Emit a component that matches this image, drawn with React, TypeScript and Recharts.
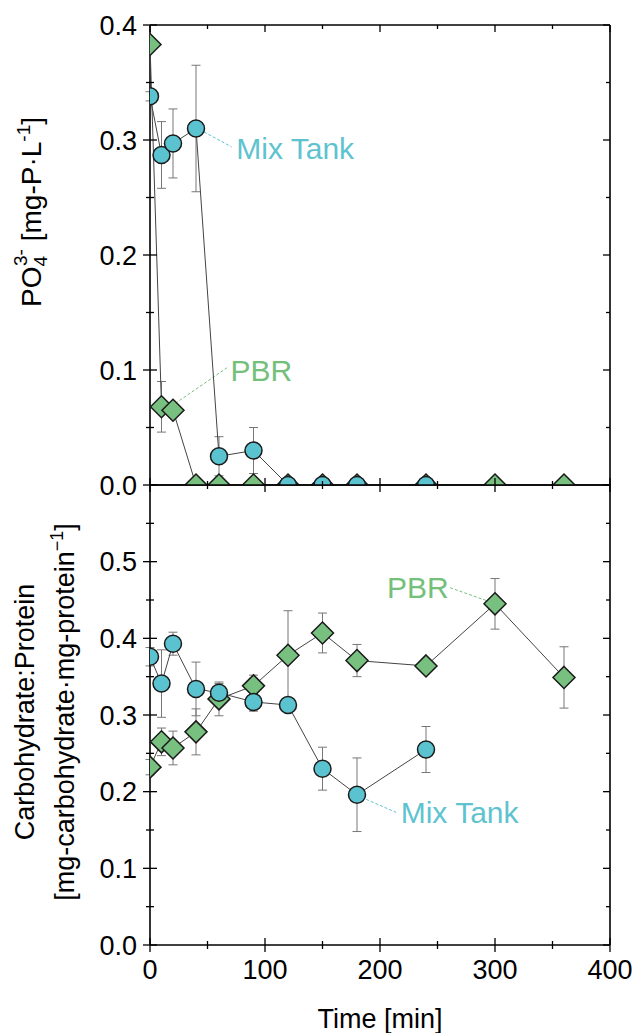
import React from "react";
import {
  ComposedChart,
  Scatter,
  XAxis,
  YAxis,
  ErrorBar,
  ReferenceLine,
  ReferenceDot,
} from "recharts";

// time axis
const timeTicks = [0, 50, 100, 150, 200, 250, 300, 350, 400];

// top panel: phosphate
const phosTicks = [0, 0.05, 0.1, 0.15, 0.2, 0.25, 0.3, 0.35, 0.4];
const phosMixTime = [0, 10, 20, 40, 60, 90, 120, 150, 180, 240];
const phosMix = [0.338, 0.287, 0.297, 0.31, 0.025, 0.03, 0, 0, 0, 0];
const phosMixErr = [0.004, 0.029, 0.03, 0.055, 0.017, 0.02, 0, 0, 0, 0];
const phosPbrTime = [0, 10, 20, 40, 60, 90, 120, 150, 180, 240, 300, 360];
const phosPbr = [0.383, 0.068, 0.065, 0, 0, 0, 0, 0, 0, 0, 0, 0];
const phosPbrErr = [0, 0.022, 0.005, 0, 0, 0, 0, 0, 0, 0, 0, 0];

// bottom panel: carbohydrate to protein ratio
const ratioTicks = [0, 0.05, 0.1, 0.15, 0.2, 0.25, 0.3, 0.35, 0.4, 0.45, 0.5, 0.55];
const ratioMixTime = [0, 10, 20, 40, 60, 90, 120, 150, 180, 240];
const ratioMix = [0.376, 0.341, 0.393, 0.334, 0.329, 0.317, 0.313, 0.23, 0.196, 0.255];
const ratioMixErr = [0.012, 0.044, 0.015, 0.035, 0.012, 0.012, 0.005, 0.028, 0.048, 0.03];
const ratioPbrTime = [0, 10, 20, 40, 60, 90, 120, 150, 180, 240, 300, 360];
const ratioPbr = [0.232, 0.265, 0.257, 0.278, 0.321, 0.338, 0.378, 0.407, 0.371, 0.364, 0.445, 0.349];
const ratioPbrErr = [0.01, 0.018, 0.022, 0.03, 0.022, 0.014, 0.058, 0.026, 0.021, 0.004, 0.033, 0.04];

const FONT = "'Liberation Sans', Arial, Helvetica, sans-serif";
const CYAN = "#5bc3d0";
const GREEN = "#78c07f";
const CYAN_TEXT = "#5ec3cf";
const GREEN_TEXT = "#74c07b";
const TICK_FS = 27;

// plot box (same for both panels)
const W = 637;
const PLOT_LEFT = 150;
const PLOT_RIGHT_MARGIN = 27;
const PLOT_W = W - PLOT_LEFT - PLOT_RIGHT_MARGIN;
const PLOT_H = 460;

const rows = (ts: number[], vs: number[], es: number[]) =>
  ts.map((t, i) => ({ t, v: vs[i], e: es[i] }));

const isMajor = (v: number, step: number) =>
  Math.abs(v / step - Math.round(v / step)) < 1e-6;

const tickStroke = { stroke: "#000", strokeWidth: 1.3 };

const LeftTick = (p: any) => {
  const major = isMajor(p.payload.value, 0.1);
  const len = major ? 7 : 4;
  return (
    <g>
      <line x1={p.x - len} x2={p.x + len} y1={p.y} y2={p.y} {...tickStroke} />
      {major && (
        <text x={p.x - 13} y={p.y} dy="0.36em" textAnchor="end" fontSize={TICK_FS} fontFamily={FONT} fill="#000">
          {p.payload.value.toFixed(1)}
        </text>
      )}
    </g>
  );
};

const RightTick = (p: any) => {
  const len = isMajor(p.payload.value, 0.1) ? 7 : 4;
  return <line x1={p.x - len} x2={p.x} y1={p.y} y2={p.y} {...tickStroke} />;
};

const DownTick = (p: any) => {
  const len = isMajor(p.payload.value, 100) ? 7 : 4;
  return <line x1={p.x} x2={p.x} y1={p.y} y2={p.y + len} {...tickStroke} />;
};

const UpTick = (p: any) => {
  const len = isMajor(p.payload.value, 100) ? 7 : 4;
  return <line x1={p.x} x2={p.x} y1={p.y - len} y2={p.y} {...tickStroke} />;
};

const BottomTick = (p: any) => {
  const major = isMajor(p.payload.value, 100);
  const len = major ? 7 : 4;
  return (
    <g>
      <line x1={p.x} x2={p.x} y1={p.y - len} y2={p.y + len} {...tickStroke} />
      {major && (
        <text x={p.x} y={p.y + 34} textAnchor="middle" fontSize={TICK_FS} fontFamily={FONT} fill="#000">
          {p.payload.value}
        </text>
      )}
    </g>
  );
};

const PhosTitle = (p: any) => {
  const vb = p.viewBox;
  const cx = vb.x + 41;
  const cy = vb.y + vb.height / 2 - 43;
  return (
    <text transform={`rotate(-90 ${cx} ${cy})`} x={cx} y={cy} textAnchor="middle" fontSize={28} fontFamily={FONT} fill="#000">
      PO
      <tspan fontSize={19} dy={6}>4</tspan>
      <tspan fontSize={19} dx={-10} dy={-20}>3-</tspan>
      <tspan dy={14}> [mg-P·L</tspan>
      <tspan fontSize={19} dy={-11}>-1</tspan>
      <tspan dy={11}>]</tspan>
    </text>
  );
};

const RatioTitle = (p: any) => {
  const vb = p.viewBox;
  const cy = vb.y + vb.height / 2 - 3;
  const x1 = vb.x + 34;
  const x2 = vb.x + 74;
  return (
    <g fontSize={27} fontFamily={FONT} fill="#000">
      <text transform={`rotate(-90 ${x1} ${cy})`} x={x1} y={cy} textAnchor="middle">
        Carbohydrate:Protein
      </text>
      <text transform={`rotate(-90 ${x2} ${cy})`} x={x2} y={cy} textAnchor="middle">
        [mg-carbohydrate·mg-protein
        <tspan fontSize={18} dy={-11}>−1</tspan>
        <tspan dy={11}>]</tspan>
      </text>
    </g>
  );
};

const TimeTitle = (p: any) => {
  const vb = p.viewBox;
  return (
    <text x={vb.x + vb.width / 2} y={vb.y + vb.height - 5} textAnchor="middle" fontSize={27} fontFamily={FONT} fill="#000">
      Time [min]
    </text>
  );
};

const makeCircle = (clip: string) => (p: any) => (
  <circle cx={p.cx} cy={p.cy} r={8.5} fill={CYAN} stroke="#1a1a1a" strokeWidth={1.5} clipPath={`url(#${clip})`} />
);

const makeDiamond = (clip: string) => (p: any) => {
  const d = 11;
  return (
    <path
      d={`M${p.cx},${p.cy - d}L${p.cx + d},${p.cy}L${p.cx},${p.cy + d}L${p.cx - d},${p.cy}Z`}
      fill={GREEN}
      stroke="#1a1a1a"
      strokeWidth={1.5}
      clipPath={`url(#${clip})`}
    />
  );
};

const Nothing = () => <g />;

const axisLine = { stroke: "#000", strokeWidth: 1.6 };
const seriesLine = { stroke: "#444", strokeWidth: 1 };
const errorBar = { dataKey: "e", direction: "y" as const, width: 4.5, stroke: "#777", strokeWidth: 1 };

const annotation = (fill: string) => ({
  position: "right" as const,
  offset: 0,
  fill,
  fontSize: 30,
  fontFamily: FONT,
});

const PlotClip = ({ id, top }: { id: string; top: number }) => (
  <defs>
    <clipPath id={id}>
      <rect x={PLOT_LEFT} y={top} width={PLOT_W} height={PLOT_H} />
    </clipPath>
  </defs>
);

export default function App() {
  const phosMixRows = rows(phosMixTime, phosMix, phosMixErr);
  const phosPbrRows = rows(phosPbrTime, phosPbr, phosPbrErr);
  const ratioMixRows = rows(ratioMixTime, ratioMix, ratioMixErr);
  const ratioPbrRows = rows(ratioPbrTime, ratioPbr, ratioPbrErr);

  return (
    <div style={{ position: "absolute", left: 0, top: 0, width: W, height: 1033, background: "#fff" }}>
      <style>{`.recharts-surface{overflow:visible}`}</style>

      <div style={{ position: "absolute", left: 0, top: 0 }}>
        <ComposedChart width={W} height={490} margin={{ top: 24, right: PLOT_RIGHT_MARGIN - 1, bottom: 4, left: 0 }}>
          <PlotClip id="clip-phos" top={25} />
          <XAxis xAxisId={0} type="number" dataKey="t" domain={[0, 400]} ticks={timeTicks} interval={0}
            height={1} tickSize={0} tickMargin={0} tickLine={false} axisLine={axisLine} tick={UpTick} />
          <XAxis xAxisId="top" orientation="top" type="number" dataKey="t" domain={[0, 400]} ticks={timeTicks} interval={0}
            height={1} tickSize={0} tickMargin={0} tickLine={false} axisLine={axisLine} tick={DownTick} />
          <YAxis yAxisId={0} type="number" dataKey="v" domain={[0, 0.4]} ticks={phosTicks} interval={0}
            allowDataOverflow width={PLOT_LEFT} tickSize={0} tickMargin={0} tickLine={false} axisLine={axisLine}
            tick={LeftTick} label={PhosTitle} />
          <YAxis yAxisId="r" orientation="right" type="number" dataKey="v" domain={[0, 0.4]} ticks={phosTicks} interval={0}
            width={1} tickSize={0} tickMargin={0} tickLine={false} axisLine={axisLine} tick={RightTick} />

          <Scatter xAxisId="top" yAxisId="r" data={phosMixRows} shape={Nothing} isAnimationActive={false} />
          <Scatter data={phosPbrRows} line={seriesLine} shape={Nothing} isAnimationActive={false}>
            <ErrorBar {...errorBar} />
          </Scatter>
          <Scatter data={phosMixRows} line={seriesLine} shape={Nothing} isAnimationActive={false}>
            <ErrorBar {...errorBar} />
          </Scatter>
          <Scatter data={phosPbrRows} shape={makeDiamond("clip-phos")} isAnimationActive={false} />
          <Scatter data={phosMixRows} shape={makeCircle("clip-phos")} isAnimationActive={false} />

          <ReferenceLine segment={[{ x: 47, y: 0.307 }, { x: 71, y: 0.294 }]} stroke={CYAN} strokeDasharray="3 2" />
          <ReferenceDot x={75} y={0.293} r={0} fill="none" stroke="none" label={{ value: "Mix Tank", ...annotation(CYAN_TEXT) }} />
          <ReferenceLine segment={[{ x: 22, y: 0.071 }, { x: 67, y: 0.102 }]} stroke={GREEN} strokeDasharray="3 2" />
          <ReferenceDot x={70} y={0.1} r={0} fill="none" stroke="none" label={{ value: "PBR", ...annotation(GREEN_TEXT) }} />
        </ComposedChart>
      </div>

      <div style={{ position: "absolute", left: 0, top: 484 }}>
        <ComposedChart width={W} height={549} margin={{ top: 0, right: PLOT_RIGHT_MARGIN - 1, bottom: 0, left: 0 }}>
          <PlotClip id="clip-ratio" top={1} />
          <XAxis xAxisId={0} type="number" dataKey="t" domain={[0, 400]} ticks={timeTicks} interval={0}
            height={88} tickSize={0} tickMargin={0} tickLine={false} axisLine={axisLine} tick={BottomTick}
            label={TimeTitle} />
          <XAxis xAxisId="top" orientation="top" type="number" dataKey="t" domain={[0, 400]} ticks={timeTicks} interval={0}
            height={1} tickSize={0} tickMargin={0} tickLine={false} axisLine={axisLine} tick={DownTick} />
          <YAxis yAxisId={0} type="number" dataKey="v" domain={[0, 0.6]} ticks={ratioTicks} interval={0}
            allowDataOverflow width={PLOT_LEFT} tickSize={0} tickMargin={0} tickLine={false} axisLine={axisLine}
            tick={LeftTick} label={RatioTitle} />
          <YAxis yAxisId="r" orientation="right" type="number" dataKey="v" domain={[0, 0.6]} ticks={ratioTicks} interval={0}
            width={1} tickSize={0} tickMargin={0} tickLine={false} axisLine={axisLine} tick={RightTick} />

          <Scatter xAxisId="top" yAxisId="r" data={ratioMixRows} shape={Nothing} isAnimationActive={false} />
          <Scatter data={ratioPbrRows} line={seriesLine} shape={Nothing} isAnimationActive={false}>
            <ErrorBar {...errorBar} />
          </Scatter>
          <Scatter data={ratioMixRows} line={seriesLine} shape={Nothing} isAnimationActive={false}>
            <ErrorBar {...errorBar} />
          </Scatter>
          <Scatter data={ratioPbrRows} shape={makeDiamond("clip-ratio")} isAnimationActive={false} />
          <Scatter data={ratioMixRows} shape={makeCircle("clip-ratio")} isAnimationActive={false} />

          <ReferenceLine segment={[{ x: 261, y: 0.466 }, { x: 293, y: 0.449 }]} stroke={GREEN} strokeDasharray="3 2" />
          <ReferenceDot x={206} y={0.466} r={0} fill="none" stroke="none" label={{ value: "PBR", ...annotation(GREEN_TEXT) }} />
          <ReferenceLine segment={[{ x: 188, y: 0.19 }, { x: 214, y: 0.173 }]} stroke={CYAN} strokeDasharray="3 2" />
          <ReferenceDot x={218} y={0.173} r={0} fill="none" stroke="none" label={{ value: "Mix Tank", ...annotation(CYAN_TEXT) }} />
        </ComposedChart>
      </div>
    </div>
  );
}
